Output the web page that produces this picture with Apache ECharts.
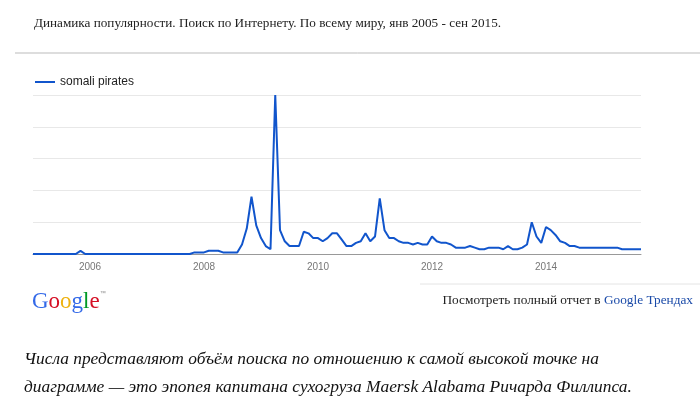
<!DOCTYPE html>
<html><head><meta charset="utf-8">
<script src="https://cdn.jsdelivr.net/npm/echarts@6/dist/echarts.min.js"></script>
<style>html,body{margin:0;padding:0;background:#fff}#c{width:700px;height:410px}</style>
</head><body><div id="c"></div>
<script>
var seriesName = 'somali pirates';
var values = [
0,0,0,0,0,0,0,0,0,0,2,0,
0,0,0,0,0,0,0,0,0,0,0,0,
0,0,0,0,0,0,0,0,0,0,1,1,
1,2,2,2,1,1,1,1,6,16,36,18,
10,5,3,100,15,8,5,5,5,14,13,10,
10,8,10,13,13,9,5,5,7,8,13,8,
11,35,15,10,10,8,7,7,6,7,6,6,
11,8,7,7,6,4,4,4,5,4,3,3,
4,4,4,3,5,3,3,4,6,20,11,7,
17,15,12,8,7,5,5,4,4,4,4,4,
4,4,4,4,3,3,3,3,3];
var categories = [];
for (var i = 0; i < values.length; i++) {
  var y = 2005 + Math.floor(i / 12), mo = i % 12 + 1;
  categories.push(y + '-' + (mo < 10 ? '0' : '') + mo);
}
var yTicks = [0, 20, 40, 60, 80, 100];
var chart = echarts.init(document.getElementById('c'));
chart.setOption({
  animation: false,
  grid: {left: 33, right: 59, top: 95, bottom: 156},
  legend: {left: 30, top: 71, itemWidth: 20, itemHeight: 2, icon: 'rect',
    textStyle: {fontFamily: 'Arial, Liberation Sans', fontSize: 12, color: '#222'},
    data: [seriesName]},
  xAxis: {type: 'category', data: categories, boundaryGap: false,
    axisLine: {lineStyle: {color: '#999'}}, axisTick: {show: false},
    axisLabel: {fontFamily: 'Arial, Liberation Sans', fontSize: 10, color: '#777', margin: 8,
      interval: function (idx, v) { return v.slice(5) === '01' && (+v.slice(0, 4)) % 2 === 0; },
      formatter: function (v) { return v.slice(0, 4); }}},
  yAxis: {type: 'value', min: yTicks[0], max: yTicks[yTicks.length - 1], interval: 20,
    axisLabel: {show: false}, axisLine: {show: false}, axisTick: {show: false},
    splitLine: {lineStyle: {color: '#e8e8e8'}}},
  series: [{name: seriesName, type: 'line', data: values, symbol: 'none',
    lineStyle: {color: '#1155cc', width: 2}, itemStyle: {color: '#1155cc'}}],
  graphic: [
    {type: 'text', left: 34, top: 17, style: {text: 'Динамика популярности. Поиск по Интернету. По всему миру, янв 2005 - сен 2015.',
      font: '13.2px "Liberation Serif", serif', fill: '#222'}},
    {type: 'line', shape: {x1: 15, y1: 53, x2: 700, y2: 53}, style: {stroke: '#bbb', lineWidth: 1}},
    {type: 'line', shape: {x1: 420, y1: 284, x2: 700, y2: 284}, style: {stroke: '#e4e4e4', lineWidth: 1}},
    {type: 'text', left: 32, top: 290, style: {
      text: '{b|G}{r|o}{y|o}{b|g}{g|l}{r|e}{t|™}',
      rich: {
        b: {fill: '#3369e8', font: '23px "Liberation Serif", serif'},
        r: {fill: '#d50f25', font: '23px "Liberation Serif", serif'},
        y: {fill: '#eeb211', font: '23px "Liberation Serif", serif'},
        g: {fill: '#009925', font: '23px "Liberation Serif", serif'},
        t: {fill: '#888', font: '6px sans-serif', verticalAlign: 'top'}
      }}},
    {type: 'text', right: 7, top: 294, style: {
      text: '{a|Посмотреть полный отчет в }{l|Google Трендах}',
      rich: {a: {fill: '#222', font: '13.3px "Liberation Serif", serif'},
             l: {fill: '#1a4aa8', font: '13.3px "Liberation Serif", serif'}}}},
    {type: 'text', left: 24, top: 345, style: {
      text: 'Числа представляют объём поиска по отношению к самой высокой точке на\nдиаграмме — это эпопея капитана сухогруза Maersk Alabama Ричарда Филлипса.',
      font: 'italic 17.4px "Liberation Serif", serif', fill: '#111', lineHeight: 28}}
  ]
});
</script></body></html>
